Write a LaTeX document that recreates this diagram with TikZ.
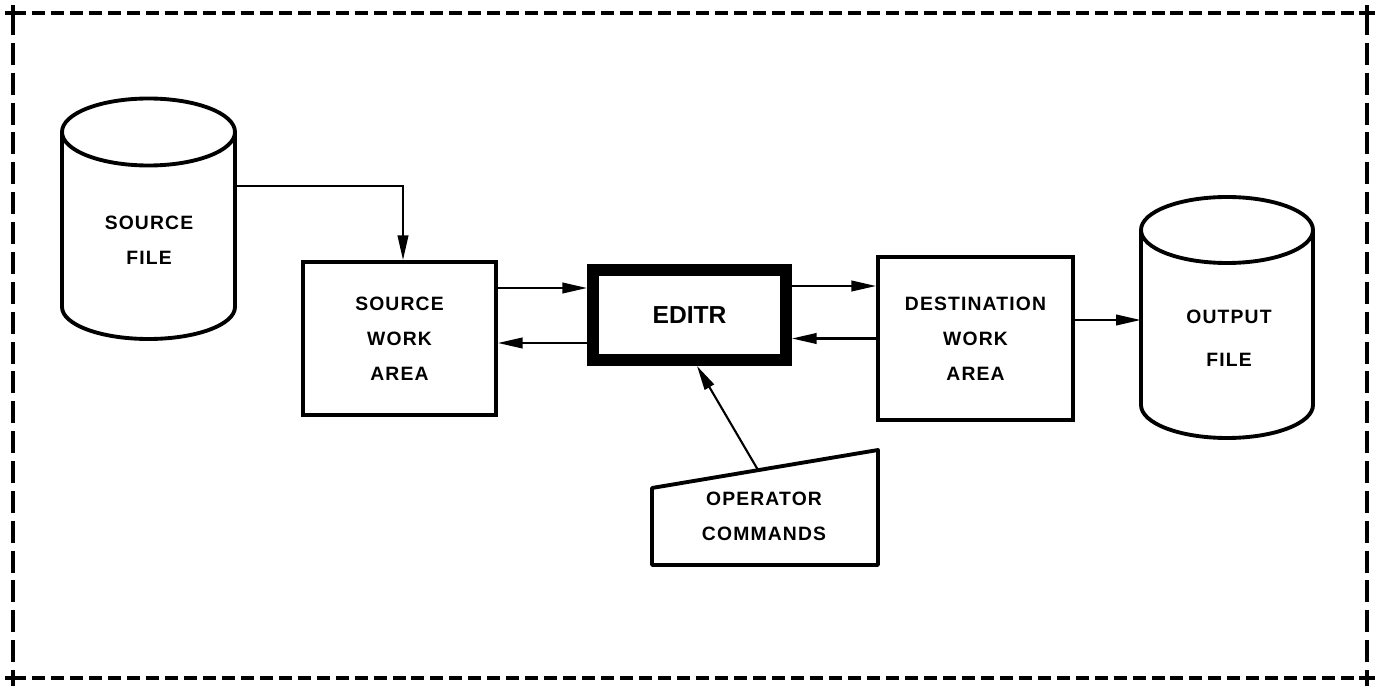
\documentclass[tikz,border=0pt]{standalone}
\usepackage{fontspec}
\setmainfont{Liberation Sans}
\usetikzlibrary{arrows.meta}
\newcommand{\boxfont}{\fontsize{11}{19.8}\selectfont\bfseries\addfontfeature{LetterSpace=6}}
\newcommand{\editrfont}{\fontsize{14}{16}\selectfont\bfseries}

\begin{document}
\begin{tikzpicture}[x=0.02cm,y=0.02cm,
    box/.style ={draw, line width=2.2pt, align=center, font=\boxfont},
    disk/.style ={rectangle, inner sep=0pt, minimum width=3.46cm, minimum height=4.84cm},
    shell/.style ={line width=2.2pt, line join=round},
    txt/.style ={align=center, font=\boxfont},
    flow/.style ={line width=1.2pt, -{Triangle[length=14pt,width=6pt]}},
    frameh/.style ={line width=2.2pt, dash pattern=on 7.4pt off 3.4pt},
    framev/.style ={line width=2.2pt, dash pattern=on 12.5pt off 4.5pt}]
   \useasboundingbox (0,0) rectangle (1380,687);

   % dashed frame
   \draw[frameh] (13,674) -- (1367,674);
   \draw[frameh] (13,9) -- (1367,9);
   \draw[framev] (13,674) -- (13,9);
   \draw[framev] (1367,674) -- (1367,9);
   \draw[line width=2.2pt] (5,674) -- (21,674) (13,666) -- (13,682);
   \draw[line width=2.2pt] (1359,674) -- (1375,674) (1367,666) -- (1367,682);
   \draw[line width=2.2pt] (5,9) -- (21,9) (13,1) -- (13,17);
   \draw[line width=2.2pt] (1359,9) -- (1375,9) (1367,1) -- (1367,17);

   % source file disk
   \node[disk] (srcfile) at (148.5,468) {};
   \draw[shell] (62,555) -- (62,380) arc[start angle=180, end angle=360, x radius=86.5, y radius=32] -- (235,555);
   \draw[shell] (148.5,555) ellipse [x radius=86.5, y radius=33.5];
   \node[txt] (srcfiletext) at (149,446.5) {SOURCE\\FILE};

   \node[box, minimum width=3.86cm, minimum height=3.06cm] (srcwork) at (399.5,348.5) {SOURCE\\WORK\\AREA};
   \node[box, line width=6.8pt, minimum width=3.86cm, minimum height=1.8cm, font=\editrfont] (editr) at (689.5,372) {EDITR};
   \node[box, minimum width=3.9cm, minimum height=3.26cm] (destwork) at (975.5,348.5) {DESTINATION\\WORK\\AREA};

   % output file disk
   \node[disk, minimum width=3.44cm, minimum height=4.82cm] (outfile) at (1227,369.5) {};
   \draw[shell] (1141,457) -- (1141,282) arc[start angle=180, end angle=360, x radius=86, y radius=33] -- (1313,457);
   \draw[shell] (1227,457) ellipse [x radius=86, y radius=33];
   \node[txt] (outfiletext) at (1229,348.5) {OUTPUT\\[4.5pt]FILE};

   % operator commands
   \draw[shell] (652,199) -- (878,237) -- (878,122) -- (652,122) -- cycle;
   \node[txt] (opcmd) at (764,170.5) {OPERATOR\\COMMANDS};
   \coordinate (opin) at (758,217);

   \coordinate (a1) at ([yshift=0.66cm]srcfile.east);
   \coordinate (e1) at ([yshift=0.54cm]editr.west);
   \coordinate (e2) at ([yshift=-0.56cm]editr.west);
   \coordinate (e3) at ([yshift=0.58cm]editr.east);
   \coordinate (d1) at ([yshift=0.37cm]destwork.east);

   \draw[flow] (a1) -| ([xshift=0.07cm]srcwork.north);
   \draw[flow] (srcwork.east |- e1) -- (e1);
   \draw[flow] (e2) -- (srcwork.east |- e2);
   \draw[flow] (e3) -- (destwork.west |- e3);
   \draw[flow] (destwork.west) -- (editr.east |- destwork.west);
   \draw[flow] (d1) -- (outfile.west |- d1);
   \draw[flow] (opin) -- ([xshift=0.15cm]editr.south);
\end{tikzpicture}
\end{document}
